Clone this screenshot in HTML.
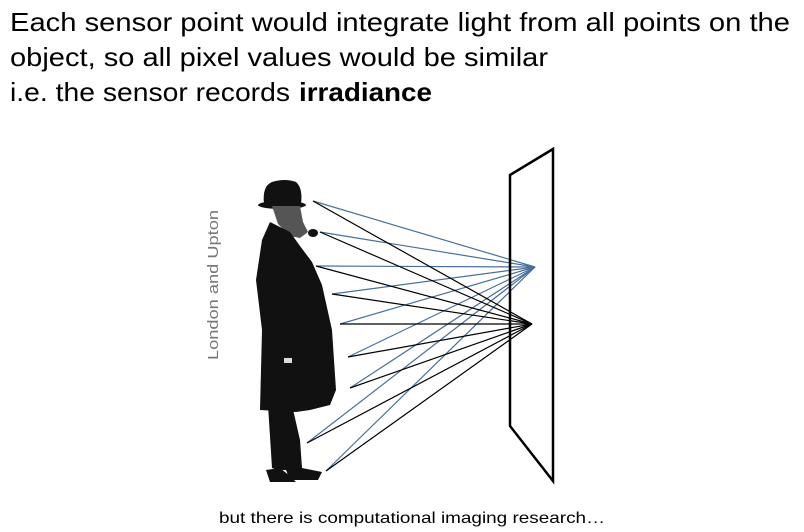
<!DOCTYPE html>
<html><head><meta charset="utf-8"><style>
html,body{margin:0;padding:0;background:#fff;}
svg{display:block;}
text{font-family:"Liberation Sans",sans-serif;}
</style></head><body>
<svg width="804" height="532" viewBox="0 0 804 532" xmlns="http://www.w3.org/2000/svg">
<text x="10" y="31" font-size="26" fill="#000" textLength="780" lengthAdjust="spacingAndGlyphs">Each sensor point would integrate light from all points on the</text>
<text x="10" y="66" font-size="26" fill="#000" textLength="538" lengthAdjust="spacingAndGlyphs">object, so all pixel values would be similar</text>
<text x="10" y="101" font-size="26" fill="#000" textLength="280" lengthAdjust="spacingAndGlyphs">i.e. the sensor records</text>
<text x="299" y="101" font-size="26" font-weight="bold" fill="#000" textLength="133" lengthAdjust="spacingAndGlyphs">irradiance</text>

<text transform="translate(218,285) rotate(-90)" font-size="15" fill="#777" text-anchor="middle" textLength="150" lengthAdjust="spacingAndGlyphs">London and Upton</text>

<g fill="#111">
<ellipse cx="282" cy="205" rx="24" ry="4"/>
<path d="M264,204 Q262,186 272,182 Q285,178 296,182 Q303,188 301,204 Z"/>
<path d="M272,206 L300,206 L303,222 L308,232 L300,238 L290,236 L278,224 Z" fill="#555"/>
<ellipse cx="313" cy="233" rx="5" ry="4"/>
<path d="M270,222 L290,232 L300,246 L312,262 L322,285 L332,330 L336,390 L330,405 L310,410 L296,412 L260,410 L262,330 L256,280 L262,240 Z"/>
<path d="M268,405 L292,405 L300,440 L302,468 L322,472 L318,480 L290,480 L286,470 L278,470 L272,468 Z"/>
<path d="M266,470 L280,468 L290,476 L296,482 L270,482 Z"/>
</g>
<rect x="284" y="358" width="8" height="5" fill="#ddd"/>

<g stroke="#4a6f9a" stroke-width="1.2">
<line x1="313" y1="201" x2="535" y2="267"/>
<line x1="320" y1="232" x2="535" y2="267"/>
<line x1="316" y1="266" x2="535" y2="267"/>
<line x1="332" y1="294" x2="535" y2="267"/>
<line x1="340" y1="324" x2="535" y2="267"/>
<line x1="348" y1="357" x2="535" y2="267"/>
<line x1="350" y1="388" x2="535" y2="267"/>
<line x1="307" y1="443" x2="535" y2="267"/>
<line x1="326" y1="471" x2="535" y2="267"/>
</g>
<g stroke="#000" stroke-width="1.2">
<line x1="313" y1="201" x2="532" y2="324"/>
<line x1="320" y1="232" x2="532" y2="324"/>
<line x1="316" y1="266" x2="532" y2="324"/>
<line x1="332" y1="294" x2="532" y2="324"/>
<line x1="340" y1="324" x2="532" y2="324"/>
<line x1="348" y1="357" x2="532" y2="324"/>
<line x1="350" y1="388" x2="532" y2="324"/>
<line x1="307" y1="443" x2="532" y2="324"/>
<line x1="326" y1="471" x2="532" y2="324"/>
</g>

<polygon points="510,175 553,149 553,481 510,426" fill="none" stroke="#000" stroke-width="2.5"/>

<text x="219" y="523" font-size="16" fill="#000" textLength="386" lengthAdjust="spacingAndGlyphs">but there is computational imaging research…</text>
</svg>
</body></html>
